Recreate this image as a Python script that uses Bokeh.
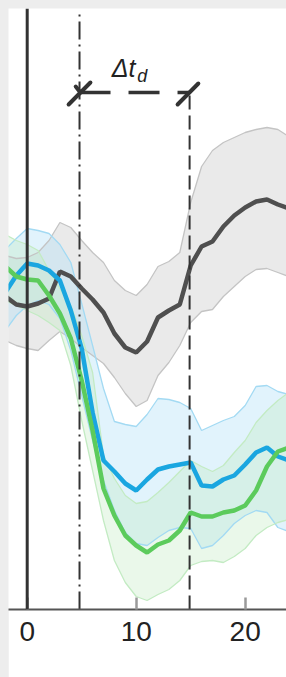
from bokeh.plotting import figure
from bokeh.models import Range1d, FixedTicker, Span
from bokeh.core.properties import value
from bokeh.embed import file_html
from bokeh.resources import INLINE

# ---- data (time in ms-like units, response in arbitrary units) ----
t = list(range(-2, 25))

gray_mean = [3.13, 3.05, 3.03, 3.06, 3.11, 3.38, 3.33, 3.21, 3.10, 2.97, 2.76, 2.62, 2.57, 2.68,
             2.92, 2.99, 3.05, 3.44, 3.63, 3.68, 3.83, 3.94, 4.02, 4.08, 4.10, 4.05, 4.01]
gray_upper = [3.54, 3.51, 3.52, 3.57, 3.69, 3.87, 3.82, 3.69, 3.57, 3.47, 3.29, 3.19, 3.14, 3.25,
              3.43, 3.48, 3.57, 4.07, 4.43, 4.59, 4.67, 4.72, 4.77, 4.80, 4.82, 4.80, 4.73]
gray_lower = [2.69, 2.64, 2.61, 2.59, 2.69, 2.78, 2.71, 2.62, 2.54, 2.46, 2.32, 2.16, 2.03, 2.09,
              2.34, 2.47, 2.64, 2.87, 2.98, 3.00, 3.13, 3.23, 3.33, 3.40, 3.41, 3.37, 3.33]

blue_mean = [3.17, 3.34, 3.46, 3.44, 3.39, 3.29, 2.99, 2.61, 1.97, 1.49, 1.38, 1.26, 1.19, 1.30,
             1.40, 1.43, 1.45, 1.47, 1.24, 1.23, 1.30, 1.34, 1.45, 1.57, 1.62, 1.53, 1.49]
blue_upper = [3.60, 3.71, 3.81, 3.79, 3.76, 3.65, 3.47, 3.06, 2.64, 2.21, 1.88, 1.85, 1.83, 1.95,
              2.11, 2.10, 2.07, 2.01, 1.79, 1.84, 1.89, 1.93, 2.04, 2.23, 2.24, 2.18, 2.15]
blue_lower = [2.79, 2.94, 3.04, 3.09, 3.05, 2.91, 2.59, 2.14, 1.69, 1.29, 0.99, 0.77, 0.66, 0.64,
              0.72, 0.79, 0.82, 0.81, 0.61, 0.64, 0.74, 0.86, 0.94, 0.99, 0.97, 0.82, 0.78]

green_mean = [3.43, 3.33, 3.30, 3.29, 3.14, 2.96, 2.71, 2.29, 1.79, 1.21, 0.94, 0.74, 0.64, 0.57,
              0.65, 0.69, 0.79, 0.97, 0.93, 0.93, 0.97, 0.99, 1.04, 1.19, 1.43, 1.58, 1.62]
green_upper = [3.75, 3.69, 3.65, 3.59, 3.39, 3.21, 3.04, 2.74, 2.37, 1.54, 1.31, 1.14, 1.06, 1.08,
               1.17, 1.27, 1.38, 1.49, 1.43, 1.38, 1.44, 1.57, 1.69, 1.87, 1.99, 2.09, 2.17]
green_lower = [3.09, 3.04, 2.99, 2.94, 2.87, 2.79, 2.44, 1.89, 1.39, 0.89, 0.49, 0.27, 0.13, 0.09,
               0.15, 0.20, 0.29, 0.44, 0.48, 0.49, 0.47, 0.53, 0.61, 0.74, 0.82, 0.87, 0.90]

x_ticks = [0, 10, 20]
t_onset = 0
t_start = 4.8
t_end = 14.9
arrow_y = 5.17
label_text = "Δt"
label_sub = "d"

# ---- figure ----
p = figure(width=278, height=669, output_backend="svg", toolbar_location=None,
           x_range=Range1d(-1.716, 23.79), y_range=Range1d(0, 6.01),
           y_axis_location=None, min_border_left=0, min_border_right=0,
           min_border_top=0, min_border_bottom=68)
p.outline_line_color = None
p.grid.visible = False
p.background_fill_color = "white"
p.border_fill_color = "white"

# bands
p.varea(x=t, y1=gray_lower, y2=gray_upper, fill_color="#d6d6d6", fill_alpha=0.5)
p.varea(x=t, y1=blue_lower, y2=blue_upper, fill_color="#b3e1f7", fill_alpha=0.4)
p.varea(x=t, y1=green_lower, y2=green_upper, fill_color="#c2ecc2", fill_alpha=0.35)
for ys, c in [(gray_upper, "#c4c4c4"), (gray_lower, "#c4c4c4"),
              (blue_upper, "#a3daf3"), (blue_lower, "#a3daf3"),
              (green_upper, "#c3ebc3"), (green_lower, "#c3ebc3")]:
    p.line(t, ys, line_color=c, line_width=1.3)

# means
p.line(t, gray_mean, line_color="#4f4f4f", line_width=4.5)
p.line(t, blue_mean, line_color="#1aa6e0", line_width=4.5)
p.line(t, green_mean, line_color="#5ccb5c", line_width=4.5)

# reference lines
p.add_layout(Span(location=t_onset, dimension="height", line_color="#333333", line_width=3))
p.segment(x0=[t_start], y0=[0], x1=[t_start], y1=[5.96], line_color="#333333",
          line_width=2, line_dash="18 5 2 5")
p.segment(x0=[t_end], y0=[0], x1=[t_end], y1=[arrow_y], line_color="#333333",
          line_width=2, line_dash="14 6")

# duration arrow
p.segment(x0=[t_start], y0=[arrow_y], x1=[t_end], y1=[arrow_y], line_color="#333333",
          line_width=3.5, line_dash="31 18")
p.segment(x0=[t_start - 1.0, t_start - 0.35, t_end - 1.1],
          y0=[arrow_y - 0.12, arrow_y + 0.06, arrow_y - 0.12],
          x1=[t_start + 1.0, t_start + 0.08, t_end + 0.8],
          y1=[arrow_y + 0.10, arrow_y, arrow_y + 0.09],
          line_color="#333333", line_width=4, line_cap="round")
p.text(x=[t_start + 2.95], y=[arrow_y + 0.25], text=[label_text], text_font=value("Liberation Sans"),
       text_font_style="italic", text_font_size="25px", text_color="#222222",
       text_baseline="alphabetic", text_align="left")
p.text(x=[t_start + 5.3], y=[arrow_y + 0.17], text=[label_sub], text_font=value("Liberation Sans"),
       text_font_style="italic", text_font_size="18px", text_color="#222222",
       text_baseline="alphabetic", text_align="left")

# axis
ax = p.xaxis[0]
ax.ticker = FixedTicker(ticks=x_ticks)
ax.minor_tick_line_color = None
ax.major_tick_in = 12
ax.major_tick_out = 0
ax.major_tick_line_color = "#9a9a9a"
ax.major_tick_line_width = 2.5
ax.axis_line_color = "#555555"
ax.axis_line_width = 2
ax.major_label_text_font = "Liberation Sans"
ax.major_label_text_font_size = "28px"
ax.major_label_text_color = "#222222"
ax.major_label_standoff = 12

html = file_html(p, INLINE)
page_css = ("<style>html{background:#ededed !important;}"
            "body{margin:8px 0 0 8px !important;background:#ededed !important;"
            "overflow:hidden !important;}</style>")
html = html.replace("</head>", page_css + "</head>", 1)
open("out.html", "w").write(html)
